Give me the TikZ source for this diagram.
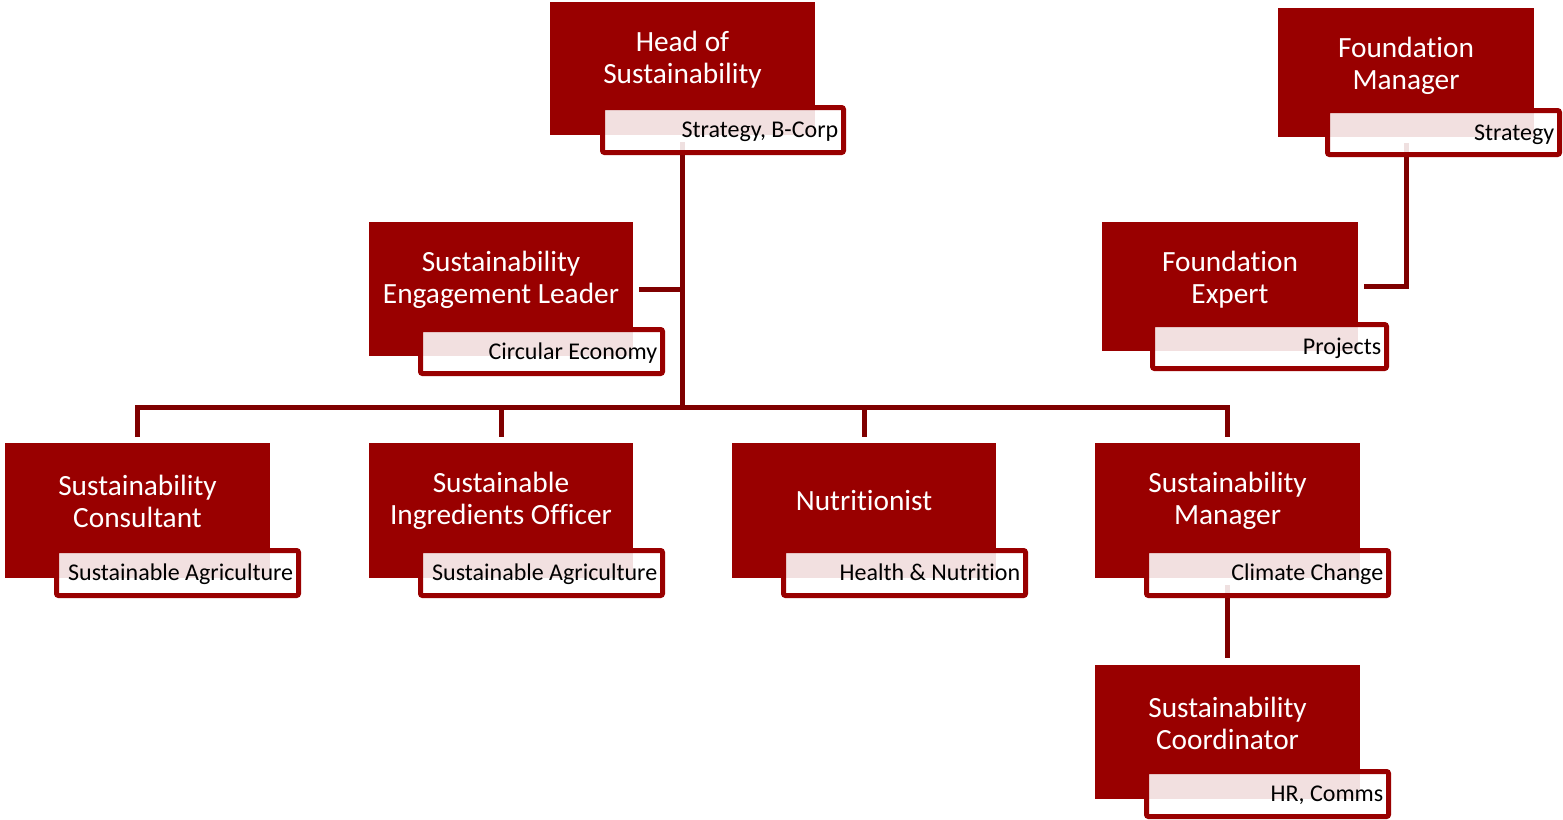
\documentclass[tikz,border=0pt]{standalone}
\usepackage{fontspec}
\setmainfont{Carlito}[Ligatures={NoCommon}]
\usetikzlibrary{fit,calc}
\pgfdeclarelayer{bg}
\pgfsetlayers{bg,main}
\definecolor{boxred}{HTML}{990000}
\definecolor{linered}{HTML}{7F0000}
\tikzset{
  mainbox/.style={rectangle, fill=boxred, draw=none, inner sep=0pt, outer sep=0pt},
  subbox/.style={rectangle, draw=boxred, line width=3.75pt, rounded corners=1.5pt,
    fill=white, fill opacity=0.88, draw opacity=1, text opacity=1, inner sep=0pt, outer sep=0pt},
  maintext/.style={text=white, align=center, inner sep=0pt, font=\fontsize{22}{24}\selectfont},
  subtext/.style={text=black, inner sep=0pt, anchor=base east, font=\fontsize{18}{20}\selectfont},
  conn/.style={draw=linered, line width=3.75pt}
}
\newcommand{\mainbox}[4]{%
  \node[mainbox, fit={#2 #3}] (#1) {};
  \node[maintext] (#1-t) at ($(#1.north)+(0,58)$) {#4};
}
\newcommand{\subbox}[4]{%
  \node[subbox, fit={#2 #3}] (#1) {};
  \node[subtext] (#1-t) at ($(#1.east)+(-5,7.5)$) {#4};
}
\begin{document}
\begin{tikzpicture}[x=0.75pt, y=-0.75pt]
\useasboundingbox (0,0) rectangle (1563,819);

% Head
\mainbox{head}{(550,2)}{(815,135)}{Head of\\Sustainability}
\subbox{heads}{(602.5,107.5)}{(843.5,152.5)}{Strategy, B-Corp}

% Foundation Manager
\mainbox{fm}{(1278,8)}{(1534,137)}{Foundation\\Manager}
\subbox{fms}{(1327.5,110.5)}{(1559.5,154.5)}{Strategy}

% Engagement leader
\mainbox{eng}{(369,222)}{(633,356)}{Sustainability\\Engagement Leader}
\subbox{engs}{(420.5,329.5)}{(662.5,373.5)}{Circular Economy}

% Foundation Expert
\mainbox{fe}{(1102,222)}{(1358,351)}{Foundation\\Expert}
\subbox{fes}{(1152.5,324.5)}{(1386.5,368.5)}{Projects}

% Row
\mainbox{c1}{(5,443)}{(270,578)}{Sustainability\\Consultant}
\subbox{c1s}{(56.5,550.5)}{(298.5,595.5)}{Sustainable Agriculture}

\mainbox{c2}{(369,443)}{(633,578)}{Sustainable\\Ingredients Officer}
\subbox{c2s}{(420.5,550.5)}{(662.5,595.5)}{Sustainable Agriculture}

\mainbox{c3}{(732,443)}{(996,578)}{Nutritionist}
\subbox{c3s}{(783.5,550.5)}{(1025.5,595.5)}{Health \& Nutrition}

\mainbox{c4}{(1095,443)}{(1360,578)}{Sustainability\\Manager}
\subbox{c4s}{(1146.5,550.5)}{(1388.5,595.5)}{Climate Change}

% Coordinator
\mainbox{co}{(1095,665)}{(1360,799)}{Sustainability\\Coordinator}
\subbox{cos}{(1146.5,771.5)}{(1388.5,816.5)}{HR, Comms}

\coordinate (bus) at (682.5,407);

\begin{pgfonlayer}{bg}
  \draw[conn, shorten <=5.25pt] (head.south) -- (head.south |- bus);
  \draw[conn, shorten <=4.5pt] (eng.east) -- (eng.east -| head.south);
  \draw[conn, shorten <=4.5pt, shorten >=4.5pt] (c1.north) -- (c1.north |- bus) -- (c4.north |- bus) -- (c4.north);
  \draw[conn, shorten >=4.5pt] (c2.north |- bus) -- (c2.north);
  \draw[conn, shorten >=4.5pt] (c3.north |- bus) -- (c3.north);
  \draw[conn, shorten <=5.25pt, shorten >=5.25pt] (c4.south) -- (co.north);
  \draw[conn, shorten <=4.5pt, shorten >=4.5pt] (fm.south) |- (fe.east);
\end{pgfonlayer}
\end{tikzpicture}
\end{document}
